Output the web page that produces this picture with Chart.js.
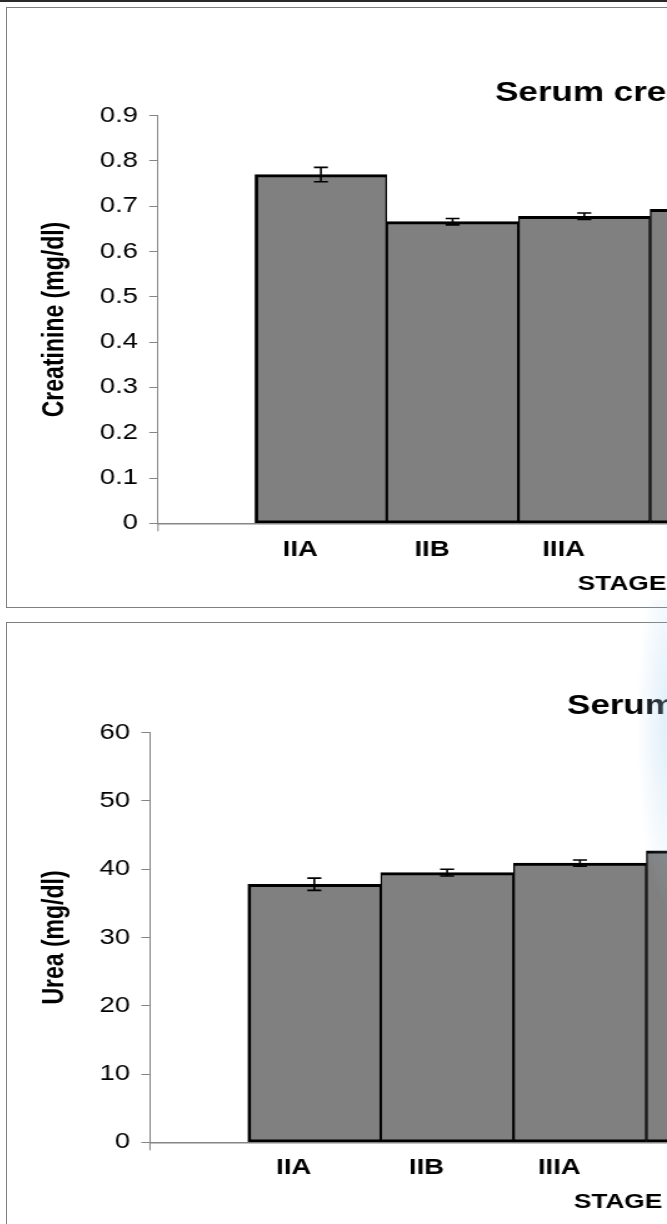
<!DOCTYPE html>
<html>
<head>
<meta charset="utf-8">
<script src="https://cdn.jsdelivr.net/npm/chart.js@4/dist/chart.umd.min.js"></script>
<style>
  body { margin: 0; width: 667px; height: 1224px; overflow: hidden; background: #fff; position: relative; }
  .topline { position: absolute; left: 0; top: 0; width: 667px; height: 2px; background: #2a2a2a; }
  .panel { position: absolute; left: 6px; width: 720px; border: 1px solid #7f7f7f; overflow: hidden; background: #fff; }
  .stretch { transform: scaleX(1.25); transform-origin: 0 0; }
  .glow { position: absolute; left: 636px; top: 600px; width: 34px; height: 310px;
          background: radial-gradient(ellipse at 100% 40%, rgba(170,210,240,0.4), rgba(255,255,255,0) 70%); }
</style>
</head>
<body>
<div class="topline"></div>
<div class="panel" style="top:7px;height:599px"><div class="stretch"><canvas id="creat" width="1008" height="598"></canvas></div></div>
<div class="panel" style="top:622px;height:700px"><div class="stretch"><canvas id="urea" width="1050" height="602"></canvas></div></div>
<div class="glow"></div>
<script>
const stages = ['IIA', 'IIB', 'IIIA', 'IIIB'];
const creatinine = [0.770, 0.666, 0.678, 0.693];
const creatinineErr = [0.016, 0.007, 0.007, null];
const urea = [37.8, 39.5, 40.9, 42.7];
const ureaErr = [0.9, 0.5, 0.45, null];
const creatinineTicks = { min: 0, max: 0.9, step: 0.1 };
const ureaTicks = { min: 0, max: 60, step: 10 };

const FONT = "'Liberation Sans', Arial, sans-serif";
const AXIS_GREY = '#868686';

// error bars + the little tick under the axis origin
const errorBars = {
  id: 'errorBars',
  afterDatasetsDraw(chart) {
    const ds = chart.data.datasets[0];
    const meta = chart.getDatasetMeta(0);
    const y = chart.scales.y;
    const ctx = chart.ctx;
    const area = chart.chartArea;
    ctx.save();
    ctx.strokeStyle = AXIS_GREY;
    ctx.lineWidth = 1;
    ctx.beginPath();
    ctx.moveTo(area.left, area.bottom);
    ctx.lineTo(area.left, area.bottom + 8);
    ctx.stroke();

    ctx.strokeStyle = '#000';
    ctx.lineWidth = 1.6;
    meta.data.forEach((bar, i) => {
      const e = ds.errors[i];
      if (e == null) return;
      const v = ds.data[i].y;
      const yt = y.getPixelForValue(v + e);
      const yb = y.getPixelForValue(v - e);
      const hw = 5.6;
      ctx.beginPath();
      ctx.moveTo(bar.x, yt); ctx.lineTo(bar.x, yb);
      ctx.moveTo(bar.x - hw, yt); ctx.lineTo(bar.x + hw, yt);
      ctx.moveTo(bar.x - hw, yb); ctx.lineTo(bar.x + hw, yb);
      ctx.stroke();
    });
    ctx.restore();
  }
};

function buildChart(id, cfg) {
  const data = cfg.values.map((v, i) => ({ x: i + 1, y: v }));
  return new Chart(document.getElementById(id), {
    type: 'bar',
    data: {
      datasets: [{
        data: data,
        errors: cfg.errors,
        backgroundColor: '#808080',
        borderColor: '#000',
        borderSkipped: false,
        borderWidth: c => ({ top: 3, bottom: 2.6, left: c.dataIndex === 0 ? 2.8 : 1.4, right: 1.4 }),
        barPercentage: 1,
        categoryPercentage: 1
      }]
    },
    options: {
      responsive: false,
      animation: false,
      devicePixelRatio: 1,
      layout: { padding: 0 },
      plugins: {
        legend: { display: false },
        tooltip: { enabled: false },
        title: {
          display: true,
          text: cfg.title,
          color: '#000',
          font: { family: FONT, size: 28, weight: 'bold' },
          padding: cfg.titlePad
        }
      },
      scales: {
        x: {
          type: 'linear',
          offset: false,
          min: -0.237,
          max: 6.81,
          grid: { drawOnChartArea: false, drawTicks: false, offset: false },
          border: { color: AXIS_GREY, width: 1.5 },
          afterBuildTicks: s => { s.ticks = s.ticks.filter(t => Number.isInteger(t.value)); },
          ticks: {
            stepSize: 1,
            autoSkip: false,
            maxRotation: 0,
            padding: cfg.xPad,
            labelOffset: -16.5,
            color: '#000',
            font: { family: FONT, size: 22, weight: 'bold' },
            callback: v => (Number.isInteger(v) && v >= 1 && v <= stages.length ? stages[v - 1] : '')
          },
          title: {
            display: true,
            text: 'STAGE',
            color: '#000',
            font: { family: FONT, size: 21, weight: 'bold' },
            padding: { top: 0, bottom: cfg.stagePad }
          },
          afterFit: s => { s.height = 82.7; }
        },
        y: {
          min: cfg.ticks.min,
          max: cfg.ticks.max,
          grid: { drawOnChartArea: false, tickLength: 7, color: AXIS_GREY },
          border: { color: AXIS_GREY, width: 1 },
          ticks: {
            stepSize: cfg.ticks.step,
            padding: 9,
            color: '#000',
            font: { family: FONT, size: 22 }
          },
          title: {
            display: true,
            text: cfg.yTitle,
            color: '#000',
            font: { family: FONT, size: 23, weight: 'bold' },
            padding: { top: 24.6, bottom: 0 }
          },
          afterFit: s => { s.width = cfg.yWidth; }
        },
        yRight: {
          position: 'right',
          display: true,
          grid: { display: false },
          border: { display: false },
          ticks: { display: false },
          afterFit: s => { s.width = cfg.rightGap; }
        }
      }
    },
    plugins: [errorBars]
  });
}

buildChart('creat', {
  title: 'Serum creatinine',
  yTitle: 'Creatinine (mg/dl)',
  values: creatinine,
  errors: creatinineErr,
  ticks: creatinineTicks,
  titlePad: { top: 68.2, bottom: 5.9 },
  xPad: 13.5,
  stagePad: 9.4,
  yWidth: 120.8,
  rightGap: 144.8
});

buildChart('urea', {
  title: 'Serum urea',
  yTitle: 'Urea (mg/dl)',
  values: urea,
  errors: ureaErr,
  ticks: ureaTicks,
  titlePad: { top: 66.9, bottom: 9.2 },
  xPad: 12.5,
  stagePad: 10.1,
  yWidth: 114.4,
  rightGap: 186.8
});
</script>
</body>
</html>
